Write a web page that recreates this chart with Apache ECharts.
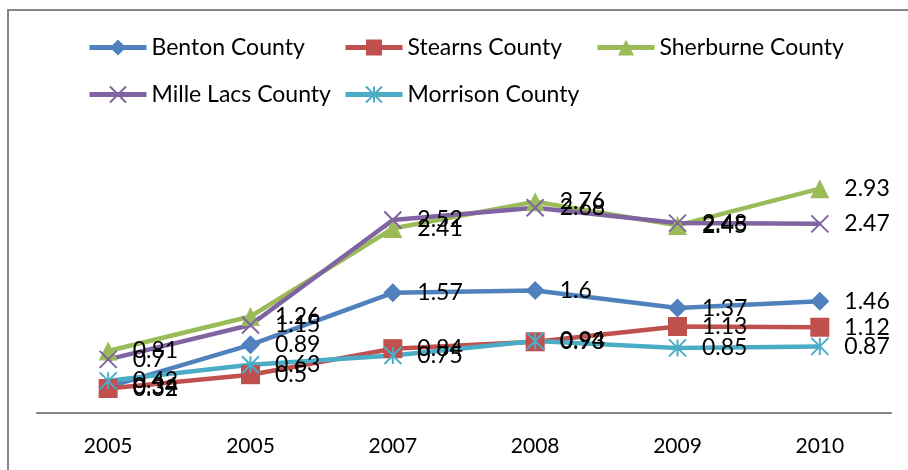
<!DOCTYPE html>
<html>
<head>
<meta charset="utf-8">
<script src="https://cdn.jsdelivr.net/npm/echarts@6/dist/echarts.min.js"></script>
<style>
  html, body { margin: 0; padding: 0; background: #fff; }
  #chart { width: 908px; height: 470px; }
</style>
</head>
<body>
<div id="chart"></div>
<script>
// years on the axis (second label really reads 2005 in the source)
var years = ['2005', '2005', '2007', '2008', '2009', '2010'];

var benton    = [0.34, 0.89, 1.57, 1.6, 1.37, 1.46];
var stearns   = [0.32, 0.5, 0.84, 0.93, 1.13, 1.12];
var sherburne = [0.81, 1.26, 2.41, 2.76, 2.45, 2.93];
var milleLacs = [0.7, 1.15, 2.52, 2.68, 2.48, 2.47];
var morrison  = [0.42, 0.63, 0.75, 0.94, 0.85, 0.87];

var names = ['Benton County', 'Stearns County', 'Sherburne County', 'Mille Lacs County', 'Morrison County'];

var FONT = 'Lato';
var crossPath = 'path://M0,0L10,10M10,0L0,10';
var starPath  = 'path://M5,0L5,10M0,0L10,10M10,0L0,10';

function makeSeries(name, data, color, symbol, size, stroke) {
    return {
        name: name,
        type: 'line',
        data: data,
        color: color,
        symbol: symbol,
        symbolSize: size,
        lineStyle: { width: 4.5, color: color },
        itemStyle: stroke ? { color: color, borderColor: color, borderWidth: 2 } : { color: color, borderWidth: 0 },
        label: {
            show: true,
            position: 'right',
            distance: 15,
            color: '#000',
            fontFamily: FONT,
            fontSize: 23
        },
        emphasis: { disabled: true },
        animation: false
    };
}

// one legend per item so each lands in its own column
function makeLegend(name, left, top) {
    return {
        data: [name],
        left: left,
        top: top,
        padding: 0,
        itemWidth: 57,
        itemHeight: 20,
        itemGap: 4,
        lineStyle: { width: 5 },
        textStyle: { fontFamily: FONT, fontSize: 23, color: '#000' },
        selectedMode: false
    };
}

var option = {
    backgroundColor: '#fff',
    legend: [
        makeLegend(names[0], 87, 36),
        makeLegend(names[1], 343, 36),
        makeLegend(names[2], 595, 36),
        makeLegend(names[3], 87, 83),
        makeLegend(names[4], 343, 83)
    ],
    grid: { left: 37, right: 17, top: 145, bottom: 57, containLabel: false },
    xAxis: {
        type: 'category',
        data: years,
        boundaryGap: true,
        axisLine: { lineStyle: { color: '#868686', width: 2 } },
        axisTick: { show: false },
        axisLabel: { color: '#000', fontFamily: FONT, fontSize: 21, margin: 23 },
        splitLine: { show: false }
    },
    yAxis: {
        type: 'value',
        min: 0,
        max: 3.5,
        show: false
    },
    graphic: [{
        type: 'rect',
        shape: { x: 8, y: 10, width: 940, height: 500 },
        style: { fill: 'none', stroke: '#868686', lineWidth: 2 },
        silent: true
    }],
    series: [
        makeSeries(names[0], benton, '#4F81BD', 'diamond', 19, false),
        makeSeries(names[1], stearns, '#C0504D', 'rect', 19, false),
        makeSeries(names[2], sherburne, '#9BBB59', 'triangle', 19, false),
        makeSeries(names[3], milleLacs, '#8064A2', crossPath, 17, true),
        makeSeries(names[4], morrison, '#4BACC6', starPath, 17, true)
    ]
};

var chart = echarts.init(document.getElementById('chart'));
chart.setOption(option);
</script>
</body>
</html>
